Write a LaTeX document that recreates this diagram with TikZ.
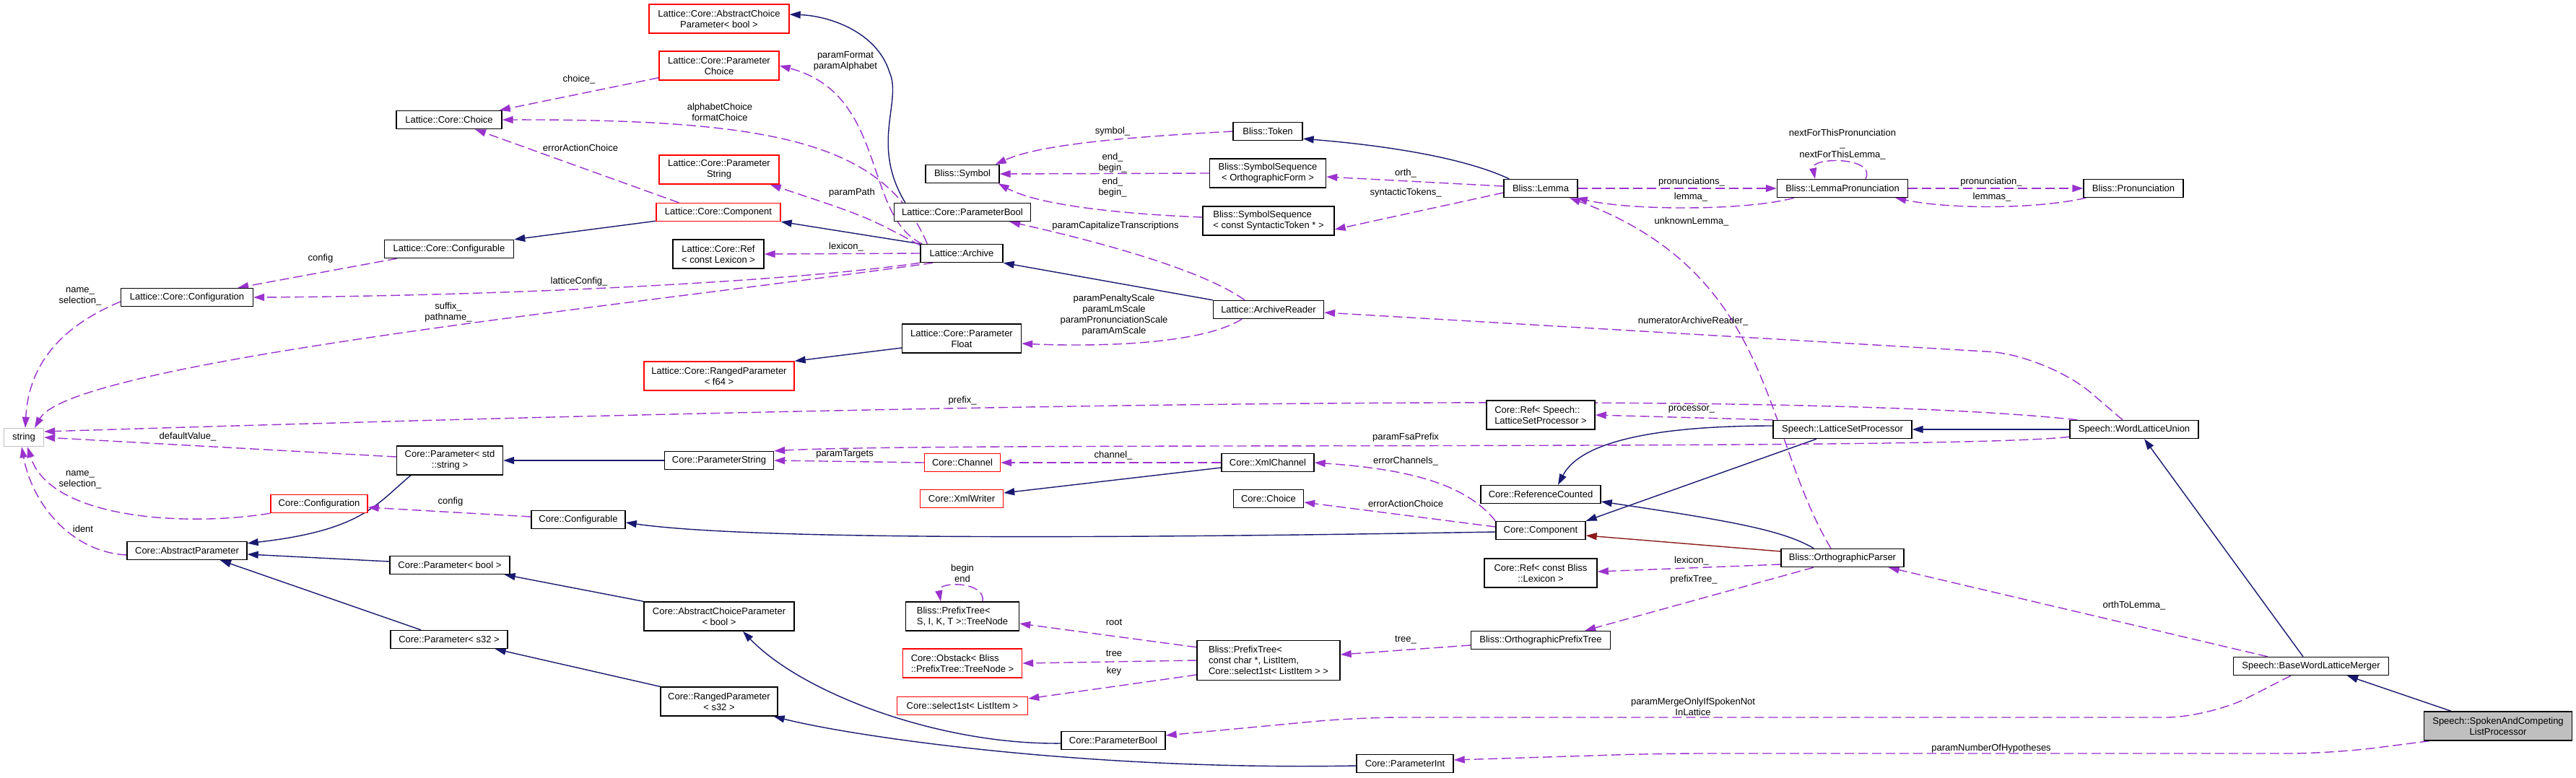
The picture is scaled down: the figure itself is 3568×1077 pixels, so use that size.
\documentclass[tikz,border=0pt]{standalone}
\usepackage{fontspec}
\setmainfont{Liberation Sans}
\usetikzlibrary{arrows.meta, backgrounds}
\definecolor{navy}{HTML}{191970}
\definecolor{orchid}{HTML}{9A32CD}
\definecolor{firebrick}{HTML}{8B1A1A}
\newcommand{\dgfont}{\fontsize{13}{15}\selectfont}
\begin{document}
\begin{tikzpicture}[x=1pt, y=-1pt,
        cls/.style={rectangle, draw=black, line width=1.4pt, fill=white, inner sep=2pt, align=center, minimum height=25pt, font=\dgfont},
        redcls/.style={cls, draw=red},
        tall/.style={minimum height=40pt},
        inherit/.style={draw=navy, line width=1.4pt, -{Triangle[length=15pt,width=10pt]}},
        uses/.style={draw=orchid, line width=1.4pt, dash pattern=on 13pt off 6pt, -{Triangle[length=15pt,width=10pt]}},
        lbl/.style={font=\dgfont, align=center, inner sep=0pt}]

    \useasboundingbox (0,0) rectangle (3568,1077);

    \node[redcls, tall, minimum width=194pt] (lacp) at (996,26) {Lattice::Core::AbstractChoice\\Parameter< bool >};
    \node[redcls, tall, minimum width=166pt] (lpchoice) at (996,91) {Lattice::Core::Parameter\\Choice};
    \node[cls, minimum width=146pt] (lchoice) at (622,166) {Lattice::Core::Choice};
    \node[redcls, tall, minimum width=166pt] (lpstring) at (996,235) {Lattice::Core::Parameter\\String};
    \node[redcls, minimum width=172pt] (lcomponent) at (995,294) {Lattice::Core::Component};
    \node[cls, minimum width=179pt] (lconfigurable) at (622,345) {Lattice::Core::Configurable};
    \node[cls, tall, minimum width=126pt] (lref) at (995,352) {Lattice::Core::Ref\\< const Lexicon >};
    \node[cls, minimum width=183pt] (lconfiguration) at (259,412) {Lattice::Core::Configuration};
    \node[redcls, tall, minimum width=208pt] (lranged) at (996,521) {Lattice::Core::RangedParameter\\< f64 >};
    \node[cls, draw=gray!50, minimum width=55pt] (str) at (33,606) {string};
    \node[cls, tall, minimum width=147pt] (pstdstring) at (623,638) {Core::Parameter< std\\::string >};
    \node[cls, minimum width=151pt] (pstring) at (996,638) {Core::ParameterString};
    \node[redcls, minimum width=134pt] (configuration) at (442,698) {Core::Configuration};
    \node[cls, minimum width=130pt] (configurable) at (801,720) {Core::Configurable};
    \node[cls, minimum width=166pt] (aparam) at (259,763) {Core::AbstractParameter};
    \node[cls, minimum width=166pt] (pbool) at (623,783) {Core::Parameter< bool >};
    \node[cls, tall, minimum width=208pt] (acparam) at (996,854) {Core::AbstractChoiceParameter\\< bool >};
    \node[cls, minimum width=162pt] (ps32) at (622,886) {Core::Parameter< s32 >};
    \node[cls, tall, minimum width=162pt] (ranged) at (996,972) {Core::RangedParameter\\< s32 >};

    \node[cls, minimum width=96pt] (token) at (1756,182) {Bliss::Token};
    \node[cls, minimum width=102pt] (symbol) at (1333,241) {Bliss::Symbol};
    \node[cls, tall, minimum width=161pt] (seqorth) at (1756,240) {Bliss::SymbolSequence\\< OrthographicForm >};
    \node[cls, tall, align=left, minimum width=182pt] (seqsyn) at (1757,306) {Bliss::SymbolSequence\\< const SyntacticToken * >};
    \node[cls, minimum width=102pt] (lemma) at (2134,261) {Bliss::Lemma};
    \node[cls, minimum width=189pt] (lpbool) at (1333,294) {Lattice::Core::ParameterBool};
    \node[cls, minimum width=114pt] (archive) at (1332,351) {Lattice::Archive};
    \node[cls, minimum width=181pt] (lemmapron) at (2552,261) {Bliss::LemmaPronunciation};
    \node[cls, minimum width=138pt] (pron) at (2955,261) {Bliss::Pronunciation};
    \node[cls, minimum width=153pt] (reader) at (1757,429) {Lattice::ArchiveReader};
    \node[cls, tall, minimum width=165pt] (lpfloat) at (1332,469) {Lattice::Core::Parameter\\Float};
    \node[cls, tall, align=left, minimum width=150pt] (refproc) at (2134,575) {Core::Ref< Speech::\\LatticeSetProcessor >};
    \node[redcls, minimum width=105pt] (channel) at (1333,641) {Core::Channel};
    \node[cls, minimum width=128pt] (xmlchannel) at (1756,641) {Core::XmlChannel};
    \node[redcls, minimum width=115pt] (xmlwriter) at (1332,691) {Core::XmlWriter};
    \node[cls, minimum width=97pt] (cchoice) at (1757,691) {Core::Choice};
    \node[cls, minimum width=166pt] (refcounted) at (2134,685) {Core::ReferenceCounted};
    \node[cls, minimum width=124pt] (component) at (2134,735) {Core::Component};
    \node[cls, minimum width=192pt] (lsp) at (2552,595) {Speech::LatticeSetProcessor};
    \node[cls, minimum width=178pt] (wlu) at (2956,595) {Speech::WordLatticeUnion};
    \node[cls, tall, minimum width=156pt] (reflex) at (2134,794) {Core::Ref< const Bliss\\::Lexicon >};
    \node[cls, tall, align=left, minimum width=157pt] (treenode) at (1333,854) {Bliss::PrefixTree<\\S, I, K, T >::TreeNode};
    \node[cls, minimum width=193pt] (opt) at (2134,887) {Bliss::OrthographicPrefixTree};
    \node[cls, align=left, minimum height=55pt, minimum width=198pt] (ptree) at (1757,915) {Bliss::PrefixTree<\\const char *, ListItem,\\Core::select1st< ListItem > >};
    \node[redcls, tall, align=left, minimum width=165pt] (obstack) at (1333,919) {Core::Obstack< Bliss\\::PrefixTree::TreeNode >};
    \node[redcls, minimum width=181pt] (select) at (1333,978) {Core::select1st< ListItem >};
    \node[cls, minimum width=144pt] (cpbool) at (1542,1026) {Core::ParameterBool};
    \node[cls, minimum width=134pt] (cpint) at (1946,1058) {Core::ParameterInt};
    \node[cls, minimum width=170pt] (oparser) at (2552,773) {Bliss::OrthographicParser};
    \node[cls, minimum width=215pt] (bwlm) at (3201,923) {Speech::BaseWordLatticeMerger};
    \node[cls, tall, fill=gray!50, minimum width=205pt] (sac) at (3460,1006) {Speech::SpokenAndCompeting\\ListProcessor};

    \begin{pgfonlayer}{background}
    \fill[white] (0,0) rectangle (3568,1077);

    \path[inherit] ([xshift=16pt]lpbool.north west) .. controls (1205,200) and (1250,140) .. (1232,100) .. controls (1215,45) and (1150,22) .. ([yshift=6pt]lacp.east);
    \path[inherit] (archive.north west) -- (lcomponent.south east);
    \path[inherit] ([yshift=1pt]lcomponent.south west) -- (lconfigurable.north east);
    \path[inherit] (reader.north west) -- (archive.south east);
    \path[inherit] ([yshift=-13pt]lpfloat.west) -- (lranged.north east);
    \path[inherit] ([xshift=8pt]lemma.north west) .. controls (2020,215) and (1900,200) .. ([yshift=3pt]token.south east);
    \path[inherit] (wlu.west) -- (lsp.east);
    \path[inherit] ([yshift=5pt]lsp.west) .. controls (2300,590) and (2190,610) .. ([xshift=24pt]refcounted.north);
    \path[inherit] ([xshift=-36pt]lsp.south) -- (component.north east);
    \path[inherit] ([xshift=46pt]oparser.north west) .. controls (2470,735) and (2400,722) .. ([yshift=-10pt]refcounted.east);
    \path[inherit, draw=firebrick] ([yshift=9pt]oparser.west) -- ([yshift=-7pt]component.east);
    \path[inherit] ([yshift=-2pt]component.west) .. controls (1600,745) and (1050,750) .. ([yshift=-4pt]configurable.east);
    \path[inherit] ([yshift=-7pt]xmlchannel.west) -- ([yshift=8pt]xmlwriter.east);
    \path[inherit] (pstring.west) -- (pstdstring.east);
    \path[inherit] ([xshift=20pt]pstdstring.south west) .. controls (520,700) and (500,735) .. ([yshift=-3pt]aparam.north east);
    \path[inherit] ([yshift=5pt]pbool.west) -- ([yshift=-5pt]aparam.east);
    \path[inherit] ([xshift=-39pt]ps32.north) -- ([xshift=46pt]aparam.south);
    \path[inherit] (acparam.north west) -- ([xshift=-8pt]pbool.south east);
    \path[inherit] (ranged.north west) -- ([xshift=-18pt]ps32.south east);
    \path[inherit] ([yshift=-4pt]cpbool.west) .. controls (1300,1032) and (1110,960) .. ([xshift=33pt]acparam.south);
    \path[inherit] ([yshift=-3pt]cpint.west) .. controls (1500,1068) and (1180,1020) .. ([xshift=-6pt]ranged.south east);
    \path[inherit] ([xshift=-11pt]bwlm.north) -- ([xshift=14pt]wlu.south);
    \path[inherit] ([xshift=-65pt]sac.north) -- ([xshift=50pt]bwlm.south);

    \path[uses] ([yshift=4pt]lpchoice.south west) -- ([xshift=-4pt]lchoice.north east) node[lbl] at (802,110) {choice\_};
    \path[uses] ([xshift=3pt]archive.north west) .. controls (1195,300) and (1230,130) .. (lpchoice.east) node[lbl] at (1171,85) {paramFormat\\paramAlphabet};
    \path[uses] ([xshift=10pt]archive.north west) .. controls (1225,200) and (1080,165) .. (lchoice.east) node[lbl] at (997,155) {alphabetChoice\\formatChoice};
    \path[uses] ([xshift=32pt]lcomponent.north west) -- ([xshift=36pt]lchoice.south) node[lbl] at (804,205) {errorActionChoice};
    \path[uses] ([yshift=-2pt]archive.north west) .. controls (1200,300) .. ([xshift=-13pt]lpstring.south east) node[lbl] at (1180,267) {paramPath};
    \path[uses] (archive.west) -- (lref.east) node[lbl] at (1172,342) {lexicon\_};
    \path[uses] ([xshift=18pt]lconfigurable.south west) -- ([xshift=-22pt]lconfiguration.north east) node[lbl] at (444,358) {config};
    \path[uses] (archive.south west) .. controls (1100,390) and (700,410) .. (lconfiguration.east) node[lbl] at (802,390) {latticeConfig\_};
    \path[uses] ([xshift=18pt]archive.south west) .. controls (900,420) and (100,500) .. ([xshift=15pt]str.north) node[lbl] at (621,433) {suffix\_\\pathname\_};
    \path[uses] ([yshift=-6pt]lconfiguration.west) .. controls (90,450) and (40,500) .. ([xshift=2pt]str.north) node[lbl] at (111,411) {name\_\\selection\_};
    \path[uses] ([xshift=-33pt]reader.north) .. controls (1660,370) and (1500,330) .. ([xshift=-30pt]lpbool.south east) node[lbl] at (1545,313) {paramCapitalizeTranscriptions};
    \path[uses] ([xshift=-37pt]reader.south) .. controls (1660,480) and (1500,480) .. ([yshift=-7pt]lpfloat.east) node[lbl] at (1543,437) {paramPenaltyScale\\paramLmScale\\paramPronunciationScale\\paramAmScale};
    \path[uses] (token.west) .. controls (1560,190) and (1440,200) .. ([xshift=-6pt]symbol.north east) node[lbl] at (1541,182) {symbol\_};
    \path[uses] (seqorth.west) -- (symbol.east) node[lbl] at (1541,226) {end\_\\begin\_};
    \path[uses] ([yshift=5pt]seqsyn.west) .. controls (1520,295) and (1430,280) .. ([xshift=-2pt]symbol.south east) node[lbl] at (1541,260) {end\_\\begin\_};
    \path[uses] ([yshift=3pt]lemma.west) -- ([yshift=-5pt]seqorth.east) node[lbl] at (1947,240) {orth\_};
    \path[uses] ([yshift=-6pt]lemma.west) -- ([yshift=-12pt]seqsyn.east) node[lbl] at (1947,267) {syntacticTokens\_};
    \path[uses] (lemma.east) -- (lemmapron.west) node[lbl] at (2343,252) {pronunciations\_};
    \path[uses] ([xshift=24pt]lemmapron.south west) .. controls (2420,292) and (2260,292) .. ([xshift=-2pt]lemma.south east) node[lbl] at (2342,273) {lemma\_};
    \path[uses] ([xshift=32pt]lemmapron.north) .. controls (2600,217) and (2508,217) .. ([xshift=-38pt]lemmapron.north) node[lbl] at (2552,200) {nextForThisPronunciation\\\_\\nextForThisLemma\_};
    \path[uses] (lemmapron.east) -- (pron.west) node[lbl] at (2758,252) {pronunciation\_};
    \path[uses] ([xshift=4pt]pron.south west) .. controls (2820,290) and (2700,290) .. ([xshift=-18pt]lemmapron.south east) node[lbl] at (2759,273) {lemmas\_};
    \path[uses] ([xshift=-16pt]oparser.north) .. controls (2440,600) and (2460,380) .. ([xshift=40pt]lemma.south) node[lbl] at (2343,307) {unknownLemma\_};
    \path[uses, rounded corners=80pt] ([xshift=-16pt]wlu.north) -- (2835,492) -- ([yshift=-4pt]reader.east) node[lbl] at (2345,445) {numeratorArchiveReader\_};
    \path[uses] ([xshift=11pt]wlu.north west) .. controls (2400,530) and (800,575) .. ([yshift=8pt]str.east) node[lbl] at (1333,555) {prefix\_};
    \path[uses] ([yshift=3pt]wlu.south west) .. controls (2700,625) and (1300,612) .. (pstring.north east) node[lbl] at (1947,606) {paramFsaPrefix};
    \path[uses] (lsp.north west) -- (refproc.east) node[lbl] at (2343,567) {processor\_};
    \path[uses] (channel.west) -- (pstring.east) node[lbl] at (1170,629) {paramTargets};
    \path[uses] (xmlchannel.west) -- (channel.east) node[lbl] at (1542,631) {channel\_};
    \path[uses] (component.north west) .. controls (2030,670) and (1950,650) .. (xmlchannel.east) node[lbl] at (1947,639) {errorChannels\_};
    \path[uses] ([yshift=5pt]component.west) -- ([yshift=-5pt]cchoice.east) node[lbl] at (1947,698) {errorActionChoice};
    \path[uses] ([yshift=4pt]configurable.west) -- ([yshift=-5pt]configuration.east) node[lbl] at (624,695) {config};
    \path[uses] ([yshift=5pt]pstdstring.west) -- (str.east) node[lbl] at (260,605) {defaultValue\_};
    \path[uses] (configuration.south west) .. controls (260,730) and (70,720) .. ([xshift=5pt]str.south) node[lbl] at (111,665) {name\_\\selection\_};
    \path[uses] ([yshift=-6pt]aparam.west) .. controls (100,765) and (45,700) .. ([xshift=-3pt]str.south) node[lbl] at (115,733) {ident};
    \path[uses] ([xshift=28pt]treenode.north) .. controls (1366,805) and (1298,805) .. ([xshift=-30pt]treenode.north) node[lbl] at (1333,794) {begin\\end};
    \path[uses] ([yshift=-10pt]ptree.north west) -- ([yshift=-10pt]treenode.east) node[lbl] at (1543,862) {root};
    \path[uses] (ptree.west) -- (obstack.east) node[lbl] at (1543,905) {tree};
    \path[uses] ([yshift=-20pt]ptree.west) -- ([yshift=10pt]select.east) node[lbl] at (1543,930) {key};
    \path[uses] ([yshift=-7pt]opt.west) -- ([yshift=8pt]ptree.east) node[lbl] at (1947,887) {tree\_};
    \path[uses] ([yshift=-9pt]oparser.west) -- ([yshift=2pt]reflex.east) node[lbl] at (2343,777) {lexicon\_};
    \path[uses] ([xshift=-40pt]oparser.south) -- ([xshift=-36pt]opt.north east) node[lbl] at (2346,803) {prefixTree\_};
    \path[uses] ([xshift=48pt]bwlm.north west) -- ([xshift=-22pt]oparser.south east) node[lbl] at (2956,839) {orthToLemma\_};
    \path[uses, rounded corners=60pt] ([xshift=-28pt]bwlm.south) -- (3060,994) -- (1880,994) -- ([yshift=7pt]cpbool.east) node[lbl] at (2345,979) {paramMergeOnlyIfSpokenNot\\InLattice};
    \path[uses, rounded corners=60pt] ([xshift=8pt]sac.south west) -- (3230,1044) -- (2300,1044) -- ([yshift=5pt]cpint.east) node[lbl] at (2758,1037) {paramNumberOfHypotheses};
    \end{pgfonlayer}
\end{tikzpicture}
\end{document}
